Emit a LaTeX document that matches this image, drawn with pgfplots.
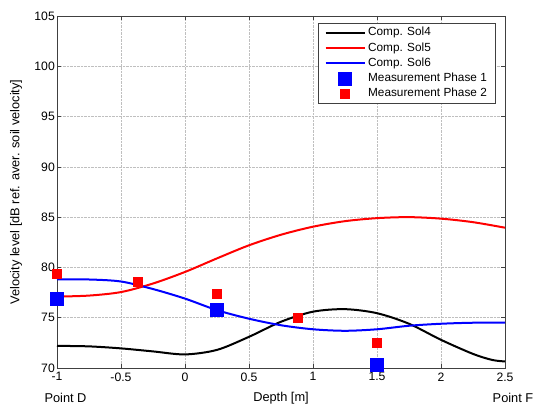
\documentclass[border=0pt]{standalone}
\usepackage{fontspec}
\setmainfont{Liberation Sans}
\usepackage{pgfplots}
\pgfplotsset{compat=1.18}

\definecolor{mblue}{RGB}{0,0,255}
\definecolor{mred}{RGB}{255,0,0}
\newcommand{\tickfont}{\fontsize{12.2}{14}\selectfont}
\newcommand{\lblfont}{\fontsize{12.8}{15}\selectfont}
\newcommand{\legfont}{\fontsize{11.8}{14}\selectfont}

\begin{document}
\begin{tikzpicture}
\begin{axis}[
  name=ax,
  scale only axis, width=448pt, height=352pt,
  xmin=-1, xmax=2.5, ymin=70, ymax=105,
  clip=false,
  xtick={-1,-0.5,0,0.5,1,1.5,2,2.5},
  xticklabels={-1,-0.5,0,0.5,1,1.5,2,2.5},
  ytick={70,75,...,105},
  /pgf/number format/assume math mode=true,
  tick align=inside,
  xtick pos=both, ytick pos=both,
  major tick length=4pt,
  grid=major,
  major grid style={gray!50, densely dotted, line width=0.5pt},
  axis line style={black!75, line width=0.6pt},
  tick style={black!75, line width=0.6pt},
  tick label style={font=\tickfont},
  yticklabel style={inner sep=2pt},
  xticklabel style={yshift=-1pt},
  label style={font=\lblfont},
  xlabel={Depth [m]},
  xlabel style={at={(axis description cs:0.5,0)}, anchor=center, yshift=-30pt},
  ylabel={Velocity level [dB ref. aver. soil velocity]},
  ylabel style={at={(axis description cs:-0.0915,0.5)}, anchor=center},
  legend cell align=left,
  legend image code/.code={\draw[mark repeat=2,mark phase=2,#1] plot coordinates {(0pt,0pt) (19.5pt,0pt) (39pt,0pt)};},
  legend style={at={(0.978,0.980)}, anchor=north east, draw=black!75, fill=white,
    font=\legfont, inner xsep=6.5pt, inner ysep=2pt, row sep=0pt, column sep=1pt,
    nodes={text height=9pt, text depth=3pt, inner sep=1.6pt}},
]
% Computed velocity levels
\addplot[black, line width=2pt, smooth] coordinates {
  (-1,72.2) (-0.75,72.15) (-0.5,71.95) (-0.25,71.65) (0,71.35)
  (0.25,71.8) (0.5,73.1) (0.75,74.6) (1.0,75.6) (1.25,75.85) (1.5,75.45)
  (1.75,74.4) (2.0,72.8) (2.25,71.4) (2.4,70.8) (2.5,70.65)
};
\addlegendentry{Comp. Sol4}
\addplot[mred, line width=2pt, smooth] coordinates {
  (-1,77.1) (-0.75,77.2) (-0.5,77.55) (-0.25,78.4) (0,79.55) (0.25,80.9)
  (0.5,82.2) (0.75,83.25) (1.0,84.05) (1.25,84.6) (1.5,84.9) (1.75,85.0)
  (2.0,84.85) (2.25,84.5) (2.5,83.95)
};
\addlegendentry{Comp. Sol5}
\addplot[mblue, line width=2pt, smooth] coordinates {
  (-1,78.8) (-0.75,78.8) (-0.5,78.6) (-0.25,77.85) (0,76.9) (0.25,75.75)
  (0.5,74.9) (0.75,74.25) (1.0,73.85) (1.25,73.7) (1.5,73.85) (1.75,74.2)
  (2.0,74.4) (2.25,74.5) (2.5,74.5)
};
\addlegendentry{Comp. Sol6}
% Measured velocity levels
\addplot[only marks, mark=square*, mark size=6.5pt, mblue] coordinates {
  (-1,76.9) (0.25,75.8) (1.5,70.3)
};
\addlegendentry{Measurement Phase 1}
\addplot[only marks, mark=square*, mark size=4.5pt, mred] coordinates {
  (-1,79.35) (-0.37,78.55) (0.25,77.35) (0.88,75.0) (1.5,72.55)
};
\addlegendentry{Measurement Phase 2}

\node[font=\lblfont] at (axis cs:-1,70) [xshift=8.5pt, yshift=-30pt] {Point D};
\node[font=\lblfont] at (axis cs:2.5,70) [xshift=8pt, yshift=-30pt] {Point F};
\end{axis}
\pgfresetboundingbox
\useasboundingbox ([xshift=-57pt,yshift=-38pt]ax.south west) rectangle ([xshift=30pt,yshift=16pt]ax.north east);
\end{tikzpicture}
\end{document}
